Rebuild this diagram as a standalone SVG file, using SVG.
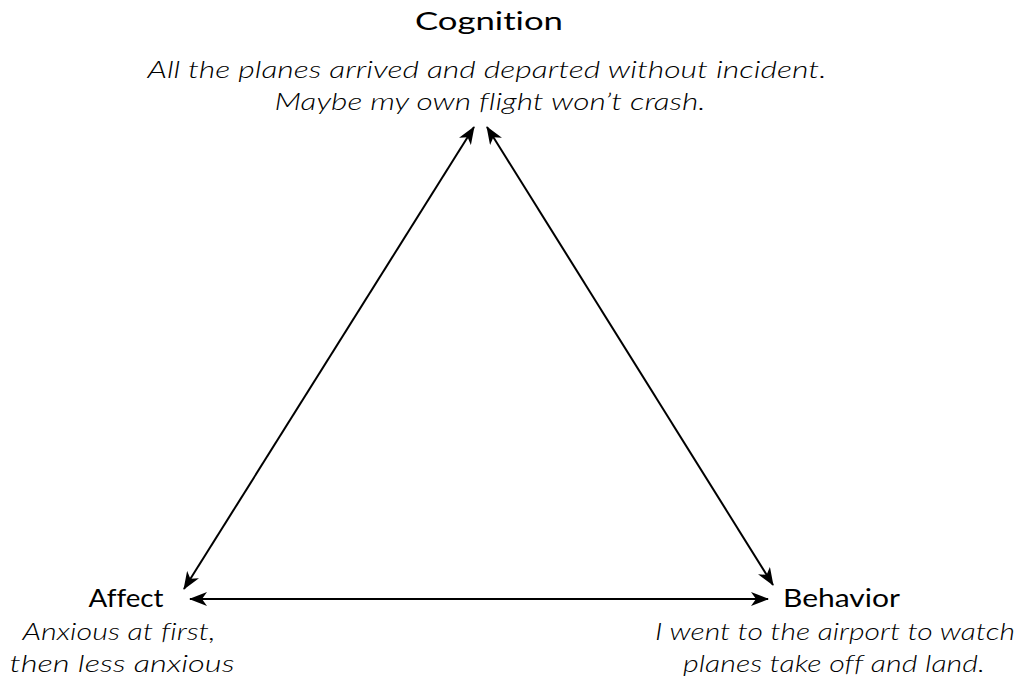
<svg xmlns="http://www.w3.org/2000/svg" width="1019" height="684" viewBox="0 0 1019 684">
  <style>
    text { font-family: Lato, "Noto Sans", sans-serif; font-variant-ligatures: none; fill: #000; }
    .title { font-size: 25px; font-weight: 400; }
    .note { font-size: 23px; font-style: italic; font-weight: 300; }
    .link { stroke: #000; stroke-width: 2; fill: none; marker-start: url(#head); marker-end: url(#head); }
  </style>
  <defs>
    <!-- notched arrowhead, used at both ends of every link -->
    <marker id="head" viewBox="0 0 18 14" refX="17" refY="7" markerWidth="18" markerHeight="14" markerUnits="userSpaceOnUse" orient="auto-start-reverse">
      <path d="M0,0 L18,7 L0,14 L5,7 Z" fill="#000"/>
    </marker>
  </defs>
  <rect width="1019" height="684" fill="#fff"/>

  <g id="connectors">
    <line class="link" x1="474" y1="127" x2="184" y2="589"/>
    <line class="link" x1="487" y1="127" x2="773" y2="585"/>
    <line class="link" x1="190" y1="599" x2="768" y2="599"/>
  </g>

  <g id="cognition">
    <text class="title" x="489" y="30" text-anchor="middle" textLength="148" lengthAdjust="spacingAndGlyphs">Cognition</text>
    <text class="note" x="487" y="78" text-anchor="middle" textLength="679" lengthAdjust="spacingAndGlyphs">All the planes arrived and departed without incident.</text>
    <text class="note" x="490" y="110" text-anchor="middle" textLength="431" lengthAdjust="spacingAndGlyphs">Maybe my own flight won’t crash.</text>
  </g>

  <g id="affect">
    <text class="title" x="126" y="607" text-anchor="middle" textLength="75" lengthAdjust="spacingAndGlyphs">Affect</text>
    <text class="note" x="119" y="640" text-anchor="middle" textLength="193" lengthAdjust="spacingAndGlyphs">Anxious at first,</text>
    <text class="note" x="122" y="672" text-anchor="middle" textLength="225" lengthAdjust="spacingAndGlyphs">then less anxious</text>
  </g>

  <g id="behavior">
    <text class="title" x="783" y="607" textLength="117" lengthAdjust="spacingAndGlyphs">Behavior</text>
    <text class="note" x="835" y="640" text-anchor="middle" textLength="360" lengthAdjust="spacingAndGlyphs">I went to the airport to watch</text>
    <text class="note" x="834" y="672" text-anchor="middle" textLength="302" lengthAdjust="spacingAndGlyphs">planes take off and land.</text>
  </g>
</svg>
